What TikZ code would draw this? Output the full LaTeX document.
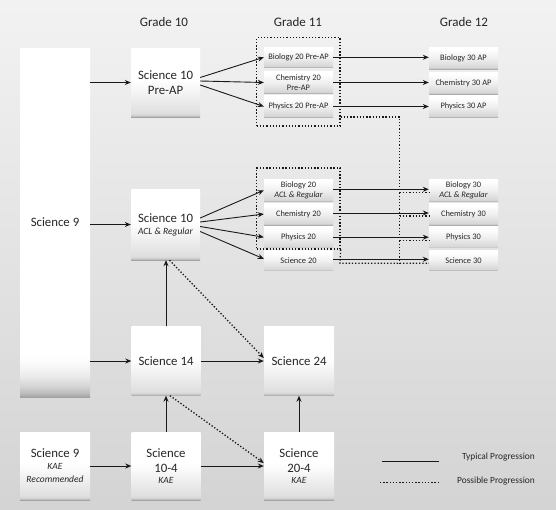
\documentclass[tikz,border=0pt]{standalone}
\usepackage{fontspec}
\setmainfont{Carlito}
\usetikzlibrary{arrows.meta,fit}
\pgfdeclareverticalshading{bigsh}{100bp}{color(0bp)=(black!36); color(25bp)=(black!36); color(26bp)=(black!20); color(27.5bp)=(black!13); color(40bp)=(black!6); color(52bp)=(white); color(100bp)=(white)}
\pgfdeclareverticalshading{smallsh}{100bp}{color(0bp)=(black!32); color(25bp)=(black!32); color(28bp)=(black!16); color(50bp)=(black!6); color(70bp)=(white); color(100bp)=(white)}
\pgfdeclareverticalshading{tallsh}{100bp}{color(0bp)=(black!36); color(25bp)=(black!36); color(25.6bp)=(black!26); color(26.5bp)=(black!17); color(28bp)=(black!8); color(29.8bp)=(black!2); color(31bp)=(white); color(100bp)=(white)}
\newcommand\kaeit{\fontsize{9.5}{11}\selectfont\itshape}
\newcommand\smallit{\fontsize{8.4}{9.6}\selectfont\itshape}
\begin{document}
\begin{tikzpicture}[x=1pt,y=-1pt,
  txt/.style={text=black!85, align=center, inner sep=0pt},
  bigbox/.style={txt, shading=bigsh, draw=none, minimum width=69pt, minimum height=69pt, font=\fontsize{12.8}{15}\selectfont},
  smallbox/.style={txt, shading=smallsh, draw=none, minimum width=69pt, minimum height=21.5pt, font=\fontsize{8.4}{9.6}\selectfont},
  tallbox/.style={txt, shading=tallsh, draw=none, minimum width=70pt, minimum height=349pt, font=\fontsize{12.8}{15}\selectfont},
  arr/.style={draw=black!90, line width=0.9pt, -{Stealth[length=6pt,width=5pt]}},
  dots/.style={draw=black!90, line width=1.3pt, dash pattern=on 1.3pt off 1.9pt},
  dotarr/.style={dots, -{Stealth[length=6pt,width=5pt]}},
  grp/.style={draw=black!90, line width=1.3pt, dash pattern=on 1.3pt off 1.9pt, inner sep=0pt},
  head/.style={text=black!85, font=\fontsize{13}{15}\selectfont, inner sep=0pt},
  legtxt/.style={text=black!85, font=\fontsize{9.4}{11}\selectfont, anchor=east, inner sep=0pt}
]
% background
\shade[top color=black!5, bottom color=black!17] (0,0) rectangle (556,509);
\useasboundingbox (0,0) rectangle (556,509);

% headers
\node[head] (h10) at (164,21.7) {Grade 10};
\node[head] (h11) at (298,21.7) {Grade 11};
\node[head] (h12) at (464,21.7) {Grade 12};

% column 9
\node[tallbox] (sci9) at (55,222.5) {Science 9};
\node[bigbox, minimum width=70pt, minimum height=68pt] (s9k) at (55,466) {Science 9\\[-3.5pt]{\kaeit KAE}\\[-1.5pt]{\kaeit Recommended}};

% column 10
\node[bigbox] (s10p) at (165.5,82.5) {Science 10\\Pre-AP};
\node[bigbox, minimum height=71pt] (s10a) at (165.5,224.5) {Science 10\\[-3pt]{\kaeit ACL \& Regular}};
\node[bigbox] (s14) at (166,361) {Science 14};
\node[bigbox, minimum height=68pt] (s104) at (166,466) {Science\\10-4\\[-3.5pt]{\kaeit KAE}};

% column 11
\node[smallbox, minimum height=20pt] (b20p) at (298.5,57.3) {Biology 20 Pre-AP};
\node[smallbox] (c20p) at (298.5,82.5) {Chemistry 20\\Pre-AP};
\node[smallbox] (p20p) at (298.5,106.5) {Physics 20 Pre-AP};
\node[smallbox, minimum height=22.5pt] (b20) at (298.5,190.3) {Biology 20\\{\smallit ACL \& Regular}};
\node[smallbox, minimum height=22pt] (c20) at (298.5,214) {Chemistry 20};
\node[smallbox] (p20) at (298.5,237.2) {Physics 20};
\node[smallbox, minimum height=20pt] (s20) at (298.5,260.8) {Science 20};
\node[bigbox, minimum width=70pt] (s24) at (299,361) {Science 24};
\node[bigbox, minimum width=70pt, minimum height=68pt] (s204) at (299,466) {Science\\20-4\\[-3.5pt]{\kaeit KAE}};

% column 12
\node[smallbox, minimum height=22pt] (b30ap) at (463.5,58) {Biology 30 AP};
\node[smallbox, minimum height=22pt] (c30ap) at (463.5,83) {Chemistry 30 AP};
\node[smallbox] (p30ap) at (463.5,106.5) {Physics 30 AP};
\node[smallbox, minimum height=22.5pt] (b30) at (463.5,190.3) {Biology 30\\{\smallit ACL \& Regular}};
\node[smallbox, minimum height=22pt] (c30) at (463.5,214) {Chemistry 30};
\node[smallbox] (p30) at (463.5,237.2) {Physics 30};
\node[smallbox, minimum height=20pt] (s30) at (463.5,260.5) {Science 30};

% dotted groups
\node[grp, fit={(256.7,37.7) (340,126)}] (grpA) {};
\node[grp, fit={(256.7,168) (340,249)}] (grpB) {};
\coordinate (jA) at (399.7,117);
\coordinate (jB) at (399.7,263.3);
\coordinate (jC) at (340,263.3);

% solid arrows from Science 9
\draw[arr] (sci9.east |- s10p.west) -- (s10p.west);
\draw[arr] (sci9.east |- s10a.west) -- (s10a.west);
\draw[arr] (sci9.east |- s14.west) -- (s14.west);
\draw[arr] (s9k.east |- s104.west) -- (s104.west);

% Pre-AP fan
\draw[arr] ([yshift=5pt]s10p.east) -- (b20p.west);
\draw[arr] ([yshift=1.5pt]s10p.east) -- (c20p.west);
\draw[arr] ([yshift=-2.5pt]s10p.east) -- (p20p.west);

% ACL fan
\draw[arr] ([yshift=6.5pt]s10a.east) -- (b20.west);
\draw[arr] ([yshift=2.5pt]s10a.east) -- (c20.west);
\draw[arr] ([yshift=-2pt]s10a.east) -- (p20.west);
\draw[arr] ([yshift=-7pt]s10a.east) -- ([yshift=2pt]s20.west);

% grade 11 -> 12
\draw[arr] (b20p.east) -- (b20p.east -| b30ap.west);
\draw[arr] (c20p.east) -- (c20p.east -| c30ap.west);
\draw[arr] (p20p.east) -- (p20p.east -| p30ap.west);
\draw[arr] ([yshift=1pt]b20.east) -- ([yshift=1pt]b20.east -| b30.west);
\draw[arr] ([yshift=1pt]c20.east) -- ([yshift=1pt]c20.east -| c30.west);
\draw[arr] (p20.east) -- (p20.east -| p30.west);
\draw[arr] ([yshift=1.5pt]s20.east) -- ([yshift=1.5pt]s20.east -| s30.west);

% dotted possible progressions (top right)
\draw[dots] (grpA.east |- jA) -- (jA) -- (jB);
\draw[dots] ([yshift=-2pt]b30.west -| jA) -- ([yshift=-2pt]b30.west);
\draw[dots] ([yshift=-2pt]c30.west -| jA) -- ([yshift=-2pt]c30.west);
\draw[dots] ([yshift=-3pt]p30.west -| jA) -- ([yshift=-3pt]p30.west);
\draw[dots] (grpB.south east) -- (jC) -- (jC -| s30.west);

% lower section
\draw[arr] (s14.north) -- (s14.north |- s10a.south);
\draw[arr] (s14.east) -- (s24.west);
\draw[arr] (s104.north) -- (s104.north |- s14.south);
\draw[arr] (s104.east) -- (s204.west);
\draw[arr] (s204.north) -- (s204.north |- s24.south);
\draw[dotarr] ([xshift=4pt]s10a.south) -- ([yshift=3pt]s24.west);
\draw[dotarr] ([xshift=4pt]s14.south) -- ([yshift=3pt]s204.west);

% legend
\coordinate (l1a) at (381.7,461);
\coordinate (l1b) at (439.3,461);
\coordinate (l2a) at (380,482.3);
\coordinate (l2b) at (440,482.3);
\draw[draw=black!90, line width=0.9pt] (l1a) -- (l1b);
\draw[dots] (l2a) -- (l2b);
\node[legtxt] (lt1) at (535,457.3) {Typical Progression};
\node[legtxt] (lt2) at (535,480.7) {Possible Progression};
\end{tikzpicture}
\end{document}
